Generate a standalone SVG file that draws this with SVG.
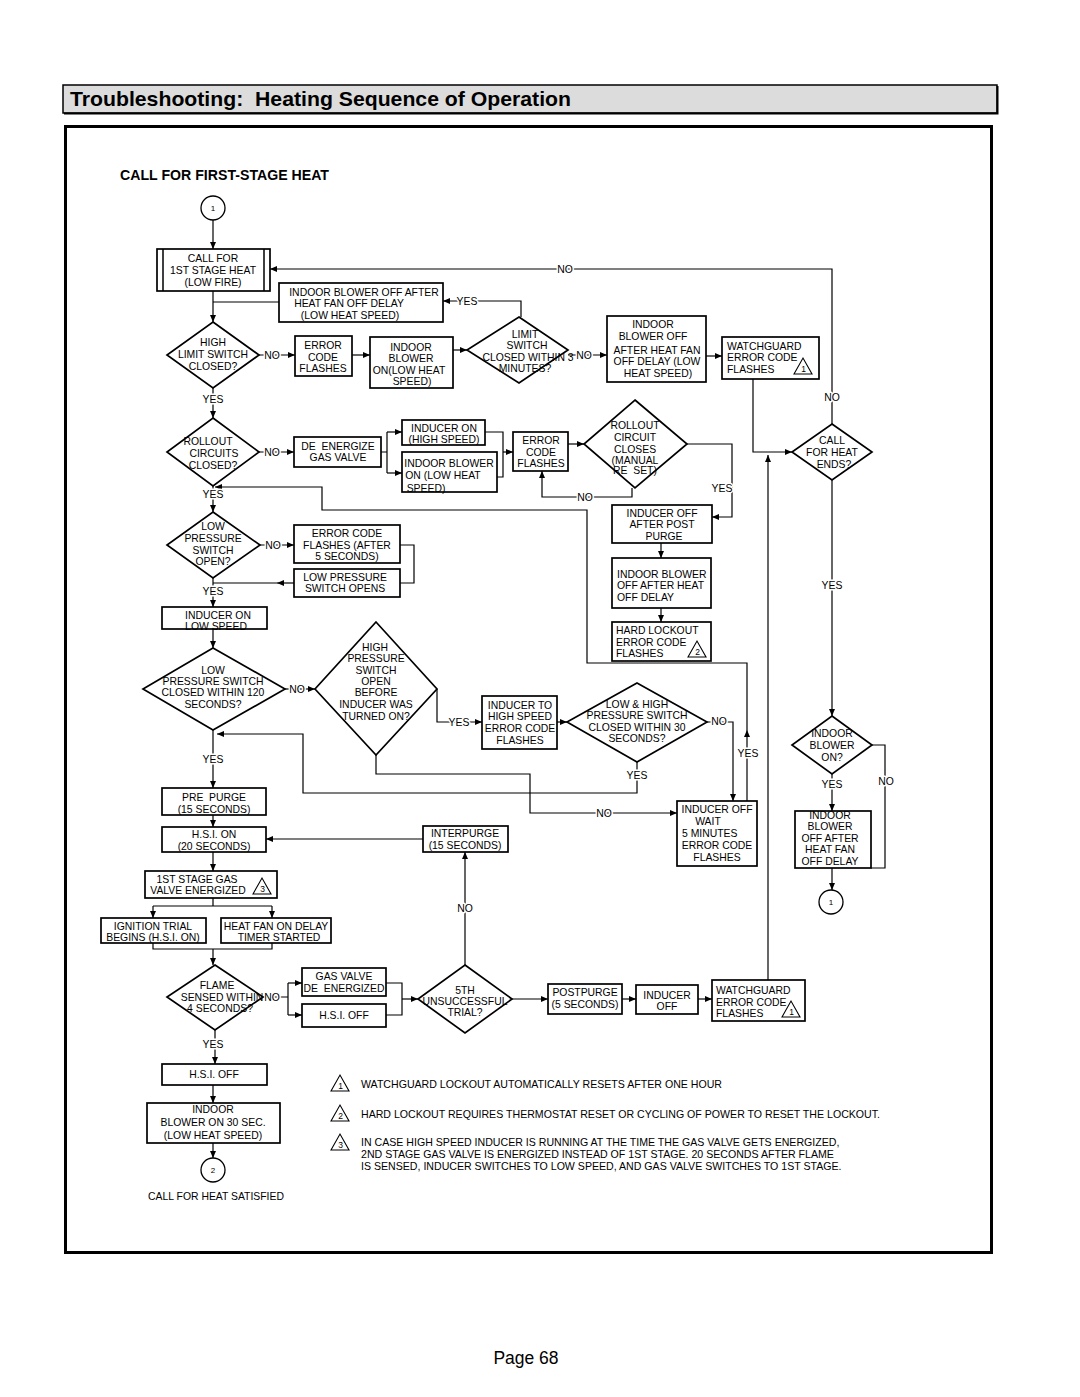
<svg xmlns="http://www.w3.org/2000/svg" width="1080" height="1397" viewBox="0 0 1080 1397">
<style>
text{font-family:"Liberation Sans",Arial,Helvetica,sans-serif;font-size:10.4px;fill:#000;white-space:pre}
.m{text-anchor:middle}
.b{fill:#fff;stroke:#000;stroke-width:1.7}
.d{fill:#fff;stroke:#000;stroke-width:1.7}
.ln{fill:none;stroke:#000;stroke-width:1.2}
.ar{fill:none;stroke:#000;stroke-width:1.2;marker-end:url(#ah)}
.lbl{text-anchor:middle;paint-order:stroke;stroke:#fff;stroke-width:3px;stroke-linejoin:round}
.tri{fill:#fff;stroke:#000;stroke-width:1.1}
.tn{font-size:8.5px;text-anchor:middle}
.nt{font-size:10.6px}
</style>
<defs>
<marker id="ah" markerWidth="7" markerHeight="6" refX="7" refY="3" orient="auto" markerUnits="userSpaceOnUse"><path d="M0,0 L7,3 L0,6 z" fill="#000"/></marker>
</defs>
<rect width="1080" height="1397" fill="#fff"/>
<g id="header">
<rect x="63" y="85" width="934" height="28" fill="#dcdcdc" stroke="#000" stroke-width="1.5"/>
<path d="M64,113.5 H997.5 V86" fill="none" stroke="#000" stroke-width="2"/>
<text x="70" y="106" textLength="501" lengthAdjust="spacingAndGlyphs" style="font-size:20.5px;font-weight:bold">Troubleshooting:  Heating Sequence of Operation</text>
</g>
<rect id="frame" x="65.5" y="126.5" width="926" height="1126" fill="none" stroke="#000" stroke-width="3"/>
<text x="120" y="180" textLength="209" lengthAdjust="spacingAndGlyphs" style="font-size:14px;font-weight:bold">CALL FOR FIRST-STAGE HEAT</text>

<g id="connectors">
<path class="ar" d="M213,220 V249"/>
<path class="ar" d="M213,291 V322"/>
<path class="ln" d="M279,302 H213"/>
<path class="ar" d="M259,355 H295"/>
<path class="ar" d="M352,355 H370"/>
<path class="ar" d="M453,350 H467"/>
<path class="ar" d="M521,317 V301 H443"/>
<path class="ar" d="M568,355 H607"/>
<path class="ar" d="M706,356 H722"/>
<path class="ar" d="M753,379 V452 H792"/>
<path class="ar" d="M768,980 V455"/>
<path class="ar" d="M832,424 V269 H270"/>
<path class="ar" d="M832,480 V716"/>
<path class="ar" d="M832,774 V811"/>
<path class="ln" d="M872,745 H885 V868 H871"/>
<path class="ar" d="M832,868 V890"/>
<path class="ar" d="M213,388 V418"/>
<path class="ar" d="M259,452 H294"/>
<path class="ln" d="M381,452 H387 M387,432 V473"/>
<path class="ar" d="M387,432 H402"/>
<path class="ar" d="M387,473 H402"/>
<path class="ln" d="M485,432 H503 V477 H497"/>
<path class="ar" d="M503,452 H513"/>
<path class="ar" d="M568,444 H584"/>
<path class="ar" d="M632,488 V497 H542 V471"/>
<path class="ar" d="M687,444 H732 V517 H712"/>
<path class="ar" d="M661,543 V558"/>
<path class="ar" d="M661,608 V622"/>
<path class="ar" d="M213,486 V512"/>
<path class="ar" d="M747,801 V730"/>
<path class="ar" d="M747,730 V663 H587 V510 H322 V487 H215"/>
<path class="ar" d="M260,545 H294"/>
<path class="ln" d="M400,545 H414 V583 H400"/>
<path class="ar" d="M294,583 H277"/>
<path class="ln" d="M277,583 H213"/>
<path class="ar" d="M213,578 V607"/>
<path class="ar" d="M213,629 V648"/>
<path class="ar" d="M285,689 H315"/>
<path class="ar" d="M437,689 V722 H482"/>
<path class="ar" d="M557,722 H567"/>
<path class="ar" d="M707,722 H733 V801"/>
<path class="ar" d="M637,762 V793 H303 V734 H217"/>
<path class="ar" d="M376,755 V774 H530 V813 H677"/>
<path class="ar" d="M213,730 V788"/>
<path class="ar" d="M213,815 V827"/>
<path class="ar" d="M423,839 H266"/>
<path class="ar" d="M213,852 V871"/>
<path class="ln" d="M213,898 V906 M153,906 H272"/>
<path class="ar" d="M153,906 V918"/>
<path class="ar" d="M272,906 V918"/>
<path class="ln" d="M153,943 V949 H272 V943"/>
<path class="ar" d="M213,949 V965"/>
<path class="ln" d="M263,997 H288 M288,983 V1015"/>
<path class="ar" d="M288,983 H302"/>
<path class="ar" d="M288,1015 H302"/>
<path class="ln" d="M386,983 H402 V1015 H386"/>
<path class="ar" d="M402,999 H418"/>
<path class="ar" d="M465,965 V852"/>
<path class="ar" d="M512,999 H548"/>
<path class="ar" d="M622,999 H636"/>
<path class="ar" d="M698,999 H712"/>
<path class="ar" d="M215,1030 V1064"/>
<path class="ar" d="M213,1085 V1103"/>
<path class="ar" d="M213,1143 V1158"/>
<g id="labels">
<text class="lbl" x="565" y="272.5">NO</text>
<text class="lbl" x="832" y="400.5">NO</text>
<text class="lbl" x="467" y="304.5">YES</text>
<text class="lbl" x="272" y="358.5">NO</text>
<text class="lbl" x="584" y="359">NO</text>
<text class="lbl" x="213" y="402.5">YES</text>
<text class="lbl" x="272" y="455.5">NO</text>
<text class="lbl" x="585" y="500.5">NO</text>
<text class="lbl" x="722" y="491.5">YES</text>
<text class="lbl" x="213" y="497.5">YES</text>
<text class="lbl" x="273" y="548.5">NO</text>
<text class="lbl" x="213" y="594.5">YES</text>
<text class="lbl" x="297" y="692.5">NO</text>
<text class="lbl" x="459" y="725.5">YES</text>
<text class="lbl" x="719" y="724.5">NO</text>
<text class="lbl" x="748" y="756.5">YES</text>
<text class="lbl" x="637" y="778.5">YES</text>
<text class="lbl" x="604" y="816.5">NO</text>
<text class="lbl" x="213" y="762.5">YES</text>
<text class="lbl" x="832" y="588.5">YES</text>
<text class="lbl" x="832" y="788">YES</text>
<text class="lbl" x="886" y="784.5">NO</text>
<text class="lbl" x="272" y="1001">NO</text>
<text class="lbl" x="465" y="911.5">NO</text>
<text class="lbl" x="213" y="1047.5">YES</text>
</g>
</g>

<g id="n-start1"><circle cx="213" cy="208" r="12" fill="#fff" stroke="#000" stroke-width="1.3"/><text class="m" x="213" y="211" style="font-size:8px">1</text></g>
<g id="n-callfor"><rect class="b" x="157" y="249" width="113" height="42"/><path class="ln" d="M163,249 V291 M264,249 V291" style="stroke-width:1.5"/><text class="m" x="213" y="262">CALL FOR</text><text class="m" x="213" y="273.5">1ST STAGE HEAT</text><text class="m" x="213" y="285.5">(LOW FIRE)</text></g>
<g id="n-bloweroffafter"><rect class="b" x="279" y="283" width="164" height="39"/><text class="m" x="364" y="295.5">INDOOR BLOWER OFF AFTER</text><text class="m" x="349" y="306.5">HEAT FAN OFF DELAY</text><text class="m" x="350" y="318.5">(LOW HEAT SPEED)</text></g>
<g id="n-highlimit"><path class="d" d="M213,322 L259,355 L213,388 L167,355 Z"/><text class="m" x="213" y="345.5">HIGH</text><text class="m" x="213" y="357.5">LIMIT SWITCH</text><text class="m" x="213" y="369.5">CLOSED?</text></g>
<g id="n-err1"><rect class="b" x="295" y="336" width="57" height="40"/><text class="m" x="323" y="348.5">ERROR</text><text class="m" x="323" y="360.5">CODE</text><text class="m" x="323" y="371.5">FLASHES</text></g>
<g id="n-bloweron"><rect class="b" x="370" y="337" width="83" height="51"/><text class="m" x="411" y="350.5">INDOOR</text><text class="m" x="411" y="361.5">BLOWER</text><text class="m" x="409" y="373.5">ON(LOW HEAT</text><text class="m" x="412" y="385">SPEED)</text></g>
<g id="n-limitsw"><path class="d" d="M519,317 L568,350 L519,383 L467,350 Z"/><text class="m" x="525" y="337.5">LIMIT</text><text class="m" x="527" y="348.5">SWITCH</text><text class="m" x="528" y="360.5">CLOSED WITHIN 3</text><text class="m" x="525" y="371.5">MINUTES?</text></g>
<g id="n-blowerofffan"><rect class="b" x="607" y="316" width="99" height="66"/><text class="m" x="653" y="327.5">INDOOR</text><text class="m" x="653" y="339.5">BLOWER OFF</text><text class="m" x="657" y="353.5">AFTER HEAT FAN</text><text class="m" x="657" y="364.5">OFF DELAY (LOW</text><text class="m" x="658" y="376.5">HEAT SPEED)</text></g>
<g id="n-watch1"><rect class="b" x="722" y="337" width="97" height="42"/><text x="727" y="349.5">WATCHGUARD</text><text x="727" y="360.5">ERROR CODE</text><text x="727" y="372.5">FLASHES</text><path class="tri" d="M794,374 L803,358 L812,374 Z"/><text class="tn" x="803.5" y="372">1</text></g>
<g id="n-rollout"><path class="d" d="M213,418 L259,452 L213,486 L167,452 Z"/><text class="m" x="208" y="444.5">ROLLOUT</text><text class="m" x="214" y="456.5">CIRCUITS</text><text class="m" x="213" y="468.5">CLOSED?</text></g>
<g id="n-deenergize"><rect class="b" x="294" y="437" width="87" height="30"/><text class="m" x="338" y="449.5">DE  ENERGIZE</text><text class="m" x="338" y="460.5">GAS VALVE</text></g>
<g id="n-inducerhigh"><rect class="b" x="402" y="420" width="83" height="25"/><text class="m" x="444" y="431.5">INDUCER ON</text><text class="m" x="444" y="442.5">(HIGH SPEED)</text></g>
<g id="n-bloweronlow"><rect class="b" x="402" y="452" width="95" height="40"/><text class="m" x="449" y="466.5">INDOOR BLOWER</text><text class="m" x="443" y="478.5">ON (LOW HEAT</text><text class="m" x="426" y="492">SPEED)</text></g>
<g id="n-err2"><rect class="b" x="513" y="432" width="55" height="39"/><text class="m" x="541" y="443.5">ERROR</text><text class="m" x="541" y="455.5">CODE</text><text class="m" x="541" y="466.5">FLASHES</text></g>
<g id="n-rolloutcircuit"><path class="d" d="M635,400 L687,444 L635,488 L584,444 Z"/><text class="m" x="635" y="428.5">ROLLOUT</text><text class="m" x="635" y="440.5">CIRCUIT</text><text class="m" x="635" y="452.5">CLOSES</text><text class="m" x="635" y="463.5">(MANUAL</text><text class="m" x="635" y="473.5">RE  SET)</text></g>
<g id="n-inducerpost"><rect class="b" x="612" y="505" width="100" height="38"/><text class="m" x="662" y="516.5">INDUCER OFF</text><text class="m" x="662" y="527.5">AFTER POST</text><text class="m" x="664" y="539.5">PURGE</text></g>
<g id="n-blowerheatoff"><rect class="b" x="612" y="558" width="99" height="50"/><text x="617" y="577.5">INDOOR BLOWER</text><text x="617" y="588.5">OFF AFTER HEAT</text><text x="617" y="600.5">OFF DELAY</text></g>
<g id="n-hardlockout"><rect class="b" x="612" y="622" width="99" height="39"/><text x="616" y="633.5">HARD LOCKOUT</text><text x="616" y="645.5">ERROR CODE</text><text x="616" y="656.5">FLASHES</text><path class="tri" d="M688,657 L697,641 L706,657 Z"/><text class="tn" x="697.5" y="655">2</text></g>
<g id="n-callends"><path class="d" d="M832,424 L872,452 L832,480 L792,452 Z"/><text class="m" x="832" y="443.5">CALL</text><text class="m" x="832" y="455.5">FOR HEAT</text><text class="m" x="834" y="467.5">ENDS?</text></g>
<g id="n-lpsopen"><path class="d" d="M213,512 L260,545 L213,578 L167,545 Z"/><text class="m" x="213" y="529.5">LOW</text><text class="m" x="213" y="541.5">PRESSURE</text><text class="m" x="213" y="553.5">SWITCH</text><text class="m" x="213" y="564.5">OPEN?</text></g>
<g id="n-err3"><rect class="b" x="294" y="525" width="106" height="38"/><text class="m" x="347" y="536.5">ERROR CODE</text><text class="m" x="347" y="548.5">FLASHES (AFTER</text><text class="m" x="347" y="559.5">5 SECONDS)</text></g>
<g id="n-lpsopens"><rect class="b" x="294" y="569" width="106" height="28"/><text class="m" x="345" y="580.5">LOW PRESSURE</text><text class="m" x="345" y="591.5">SWITCH OPENS</text></g>
<g id="n-inducerlow"><rect class="b" x="162" y="607" width="105" height="22"/><text class="m" x="218" y="619">INDUCER ON</text><text class="m" x="216" y="630">LOW SPEED</text></g>
<g id="n-lps120"><path class="d" d="M213,648 L285,689 L213,730 L143,689 Z"/><text class="m" x="213" y="673.5">LOW</text><text class="m" x="213" y="684.5">PRESSURE SWITCH</text><text class="m" x="213" y="695.5">CLOSED WITHIN 120</text><text class="m" x="213" y="707.5">SECONDS?</text></g>
<g id="n-hpsopen"><path class="d" d="M376,622 L437,689 L376,755 L315,689 Z"/><text class="m" x="375" y="650.5">HIGH</text><text class="m" x="376" y="661.5">PRESSURE</text><text class="m" x="376" y="673.5">SWITCH</text><text class="m" x="376" y="684.5">OPEN</text><text class="m" x="376" y="695.5">BEFORE</text><text class="m" x="376" y="707.5">INDUCER WAS</text><text class="m" x="376" y="719.5">TURNED ON?</text></g>
<g id="n-inducertohigh"><rect class="b" x="482" y="696" width="75" height="53"/><text class="m" x="520" y="708.5">INDUCER TO</text><text class="m" x="520" y="719.5">HIGH SPEED</text><text class="m" x="520" y="731.5">ERROR CODE</text><text class="m" x="520" y="743.5">FLASHES</text></g>
<g id="n-lowhigh30"><path class="d" d="M637,683 L707,722 L637,762 L567,722 Z"/><text class="m" x="637" y="707.5">LOW &amp; HIGH</text><text class="m" x="637" y="718.5">PRESSURE SWITCH</text><text class="m" x="637" y="730.5">CLOSED WITHIN 30</text><text class="m" x="637" y="741.5">SECONDS?</text></g>
<g id="n-inducerwait"><rect class="b" x="677" y="801" width="80" height="65"/><text class="m" x="717" y="812.5">INDUCER OFF</text><text class="m" x="708" y="824.5">WAIT</text><text x="682" y="836.5">5 MINUTES</text><text class="m" x="717" y="848.5">ERROR CODE</text><text class="m" x="717" y="860.5">FLASHES</text></g>
<g id="n-bloweronq"><path class="d" d="M832,716 L872,745 L832,774 L792,745 Z"/><text class="m" x="832" y="736.5">INDOOR</text><text class="m" x="832" y="748.5">BLOWER</text><text class="m" x="832" y="760.5">ON?</text></g>
<g id="n-blowerofffan2"><rect class="b" x="795" y="811" width="76" height="57"/><text class="m" x="830" y="818.5">INDOOR</text><text class="m" x="830" y="829.5">BLOWER</text><text class="m" x="830" y="841.5">OFF AFTER</text><text class="m" x="830" y="852.5">HEAT FAN</text><text class="m" x="830" y="864.5">OFF DELAY</text></g>
<g id="n-end1"><circle cx="831" cy="902" r="12" fill="#fff" stroke="#000" stroke-width="1.3"/><text class="m" x="831" y="905" style="font-size:8px">1</text></g>
<g id="n-prepurge"><rect class="b" x="162" y="788" width="104" height="27"/><text class="m" x="214" y="800.5">PRE  PURGE</text><text class="m" x="214" y="812.5">(15 SECONDS)</text></g>
<g id="n-hsion"><rect class="b" x="162" y="827" width="104" height="25"/><text class="m" x="214" y="837.5">H.S.I. ON</text><text class="m" x="214" y="849.5">(20 SECONDS)</text></g>
<g id="n-interpurge"><rect class="b" x="423" y="826" width="85" height="26"/><text class="m" x="465" y="836.5">INTERPURGE</text><text class="m" x="465" y="848.5">(15 SECONDS)</text></g>
<g id="n-gas1st"><rect class="b" x="145" y="871" width="132" height="27"/><text class="m" x="197" y="882.5">1ST STAGE GAS</text><text class="m" x="198" y="893.5">VALVE ENERGIZED</text><path class="tri" d="M253,894 L262,878 L271,894 Z"/><text class="tn" x="262.5" y="892">3</text></g>
<g id="n-ignition"><rect class="b" x="101" y="918" width="105" height="25"/><text class="m" x="153" y="929.5">IGNITION TRIAL</text><text class="m" x="153" y="941">BEGINS (H.S.I. ON)</text></g>
<g id="n-heatfan"><rect class="b" x="221" y="918" width="110" height="25"/><text class="m" x="276" y="929.5">HEAT FAN ON DELAY</text><text class="m" x="279" y="941">TIMER STARTED</text></g>
<g id="n-flame"><path class="d" d="M215,965 L263,997 L215,1030 L167,997 Z"/><text class="m" x="217" y="988.5">FLAME</text><text class="m" x="222" y="1000.5">SENSED WITHIN</text><text class="m" x="220" y="1011.5">4 SECONDS?</text></g>
<g id="n-gasvalvede"><rect class="b" x="302" y="968" width="84" height="28"/><text class="m" x="344" y="979.5">GAS VALVE</text><text class="m" x="344" y="991.5">DE  ENERGIZED</text></g>
<g id="n-hsioff2"><rect class="b" x="302" y="1004" width="84" height="23"/><text class="m" x="344" y="1018.5">H.S.I. OFF</text></g>
<g id="n-fifth"><path class="d" d="M465,965 L512,999 L465,1033 L418,999 Z"/><text class="m" x="465" y="993.5">5TH</text><text class="m" x="465" y="1004.5">UNSUCCESSFUL</text><text class="m" x="465" y="1015.5">TRIAL?</text></g>
<g id="n-postpurge"><rect class="b" x="548" y="984" width="74" height="30"/><text class="m" x="585" y="995.5">POSTPURGE</text><text class="m" x="585" y="1007.5">(5 SECONDS)</text></g>
<g id="n-induceroff"><rect class="b" x="636" y="985" width="62" height="29"/><text class="m" x="667" y="998.5">INDUCER</text><text class="m" x="667" y="1009.5">OFF</text></g>
<g id="n-watch2"><rect class="b" x="712" y="980" width="93" height="41"/><text x="716" y="993.5">WATCHGUARD</text><text x="716" y="1005.5">ERROR CODE</text><text x="716" y="1016.5">FLASHES</text><path class="tri" d="M782,1017 L791,1001 L800,1017 Z"/><text class="tn" x="791.5" y="1015">1</text></g>
<g id="n-hsioff"><rect class="b" x="162" y="1064" width="105" height="21"/><text class="m" x="214" y="1077.5">H.S.I. OFF</text></g>
<g id="n-blower30"><rect class="b" x="147" y="1103" width="133" height="40"/><text class="m" x="213" y="1112.5">INDOOR</text><text class="m" x="213" y="1125.5">BLOWER ON 30 SEC.</text><text class="m" x="213" y="1138.5">(LOW HEAT SPEED)</text></g>
<g id="n-end2"><circle cx="213" cy="1170" r="12" fill="#fff" stroke="#000" stroke-width="1.3"/><text class="m" x="213" y="1173" style="font-size:8px">2</text></g>
<text class="m" x="216" y="1199.5">CALL FOR HEAT SATISFIED</text>

<g id="notes">
<path class="tri" d="M331,1091 L340,1075 L349,1091 Z"/><text class="tn" x="340.5" y="1089">1</text>
<text class="nt" x="361" y="1088">WATCHGUARD LOCKOUT AUTOMATICALLY RESETS AFTER ONE HOUR</text>
<path class="tri" d="M331,1121 L340,1105 L349,1121 Z"/><text class="tn" x="340.5" y="1119">2</text>
<text class="nt" x="361" y="1118">HARD LOCKOUT REQUIRES THERMOSTAT RESET OR CYCLING OF POWER TO RESET THE LOCKOUT.</text>
<path class="tri" d="M331,1150 L340,1134 L349,1150 Z"/><text class="tn" x="340.5" y="1148">3</text>
<text class="nt" x="361" y="1146">IN CASE HIGH SPEED INDUCER IS RUNNING AT THE TIME THE GAS VALVE GETS ENERGIZED,</text>
<text class="nt" x="361" y="1158">2ND STAGE GAS VALVE IS ENERGIZED INSTEAD OF 1ST STAGE. 20 SECONDS AFTER FLAME</text>
<text class="nt" x="361" y="1170">IS SENSED, INDUCER SWITCHES TO LOW SPEED, AND GAS VALVE SWITCHES TO 1ST STAGE.</text>
</g>
<text class="m" x="526" y="1364" style="font-size:17.5px">Page 68</text>
</svg>
